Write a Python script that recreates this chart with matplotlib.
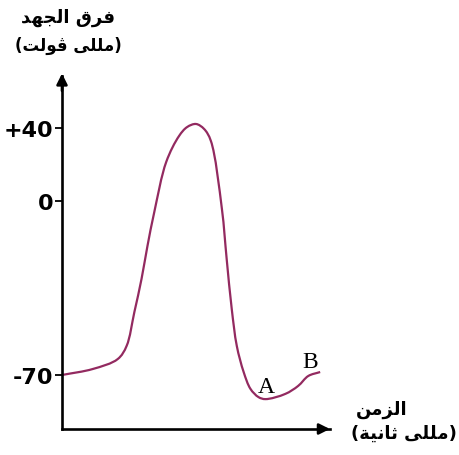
import numpy as np
import matplotlib.pyplot as plt
from matplotlib.path import Path
from matplotlib.patches import PathPatch

# action potential curve (time in ms, arbitrary units)
t_ms = [0.00, 1.03, 1.87, 2.17, 2.43, 2.67, 2.87, 3.10, 3.50, 3.93, 4.20, 4.50,
        4.77, 5.00, 5.37, 5.53, 5.70, 5.87, 6.10, 6.33, 6.60, 6.83, 7.50,
        7.93, 8.27, 8.67]
v_mv = [-70.0, -67.6, -63.6, -58.3, -44.7, -31.4, -18.1, -4.4, 21.4, 35.6, 40.5, 42.2,
        39.5, 32.9, -3.2, -23.3, -43.4, -58.3, -68.8, -75.6, -78.9, -79.7, -77.6,
        -74.4, -70.4, -68.8]
y_ticks = [-70, 0, 40]
y_ticklabels = ['-70', '0', '+40']

# the drawing is schematic: the axis is not linear between the marked values
mv_marks = [-120, -70, 0, 40, 100]
px_marks = [-124.3, 0, 174, 247, 356.5]


def fwd(v):
    return np.interp(v, mv_marks, px_marks)


def inv(p):
    return np.interp(p, px_marks, mv_marks)


# minimal arabic shaping (matplotlib has no complex text layout)
forms = {
    'ا': ('\uFE8D', '\uFE8E', None, None),
    'ت': ('\uFE95', '\uFE96', '\uFE97', '\uFE98'),
    'ث': ('\uFE99', '\uFE9A', '\uFE9B', '\uFE9C'),
    'ج': ('\uFE9D', '\uFE9E', '\uFE9F', '\uFEA0'),
    'د': ('\uFEA9', '\uFEAA', None, None),
    'ر': ('\uFEAD', '\uFEAE', None, None),
    'ز': ('\uFEAF', '\uFEB0', None, None),
    'ف': ('\uFED1', '\uFED2', '\uFED3', '\uFED4'),
    'ق': ('\uFED5', '\uFED6', '\uFED7', '\uFED8'),
    'ل': ('\uFEDD', '\uFEDE', '\uFEDF', '\uFEE0'),
    'م': ('\uFEE1', '\uFEE2', '\uFEE3', '\uFEE4'),
    'ن': ('\uFEE5', '\uFEE6', '\uFEE7', '\uFEE8'),
    'ه': ('\uFEE9', '\uFEEA', '\uFEEB', '\uFEEC'),
    'و': ('\uFEED', '\uFEEE', None, None),
    'ى': ('\uFEEF', '\uFEF0', None, None),
    'ي': ('\uFEF1', '\uFEF2', '\uFEF3', '\uFEF4'),
    'ة': ('\uFE93', '\uFE94', None, None),
    'ڤ': ('\uFB6A', '\uFB6B', '\uFB6C', '\uFB6D'),
}


def shape(s):
    out = []
    for i, c in enumerate(s):
        if c not in forms:
            out.append({'(': ')', ')': '('}.get(c, c))
            continue
        prev = s[i - 1] if i > 0 else ''
        nxt = s[i + 1] if i + 1 < len(s) else ''
        join_prev = prev in forms and forms[prev][2] is not None
        join_next = nxt in forms and forms[c][2] is not None
        iso, fin, ini, med = forms[c]
        if join_prev and join_next:
            out.append(med)
        elif join_prev:
            out.append(fin)
        elif join_next:
            out.append(ini)
        else:
            out.append(iso)
    return ''.join(reversed(out))


ylabel1 = 'فرق الجهد'
ylabel2 = '(مللى ڤولت)'
xlabel1 = 'الزمن'
xlabel2 = '(مللى ثانية)'

fig = plt.figure(figsize=(4.59, 4.56), dpi=100)
ax = fig.add_axes([62 / 459, 26 / 456, 268 / 459, 353 / 456])
ax.set_yscale('function', functions=(fwd, inv))
ax.set_xlim(0, 9)
ax.set_ylim(inv(-54), inv(299))

# smooth pen stroke through the read points (centripetal catmull-rom as bezier),
# built in the scaled space so the odd y axis is respected
xs = 30.0  # roughly px per ms, so distances are measured evenly
P = np.column_stack([np.array(t_ms) * xs, fwd(np.array(v_mv))])
P = np.vstack([2 * P[0] - P[1], P, 2 * P[-1] - P[-2]])
verts = [P[1]]
codes = [Path.MOVETO]
for i in range(1, len(P) - 2):
    p0, p1, p2, p3 = P[i - 1], P[i], P[i + 1], P[i + 2]
    d1 = np.linalg.norm(p1 - p0) ** 0.5
    d2 = np.linalg.norm(p2 - p1) ** 0.5
    d3 = np.linalg.norm(p3 - p2) ** 0.5
    c1 = (d1**2 * p2 - d2**2 * p0 + (2 * d1**2 + 3 * d1 * d2 + d2**2) * p1) / (3 * d1 * (d1 + d2))
    c2 = (d3**2 * p1 - d2**2 * p3 + (2 * d3**2 + 3 * d3 * d2 + d2**2) * p2) / (3 * d3 * (d3 + d2))
    verts += [c1, c2, p2]
    codes += [Path.CURVE4] * 3
verts = np.array(verts)
verts[:, 0] /= xs
curve = PathPatch(Path(verts, codes), facecolor='none', edgecolor='#932a60',
                  lw=1.6, transform=ax.transLimits + ax.transAxes)
ax.add_patch(curve)

ax.set_xticks([])
ax.set_yticks(y_ticks)
ax.set_yticklabels(y_ticklabels, fontsize=16, fontweight='bold', family='DejaVu Sans')
ax.minorticks_off()
ax.tick_params(axis='y', length=5, width=1.3, pad=1)
ax.spines['top'].set_visible(False)
ax.spines['right'].set_visible(False)
ax.spines['left'].set_linewidth(1.9)
ax.spines['bottom'].set_linewidth(1.9)

# arrow heads on the axes
ax.annotate('', xy=(0, 1.015), xycoords='axes fraction', xytext=(0, 0.95),
            arrowprops=dict(arrowstyle='-|>', color='k', lw=1.9, mutation_scale=16),
            annotation_clip=False)
ax.annotate('', xy=(1.01, 0), xycoords='axes fraction', xytext=(0.95, 0),
            arrowprops=dict(arrowstyle='-|>', color='k', lw=1.9, mutation_scale=16),
            annotation_clip=False)

ax.text(6.87, -76.8, 'A', fontsize=17, family='Liberation Serif', ha='center', va='baseline')
ax.text(8.33, -66.8, 'B', fontsize=17, family='Liberation Serif', ha='center', va='baseline')

fig.text(68 / 459, 1 - 18 / 456, shape(ylabel1), fontsize=13, fontweight='bold',
         ha='center', va='center')
fig.text(68 / 459, 1 - 46 / 456, shape(ylabel2), fontsize=12, fontweight='bold',
         ha='center', va='center')
fig.text(382 / 459, 1 - 410 / 456, shape(xlabel1), fontsize=13, fontweight='bold',
         ha='center', va='center')
fig.text(404 / 459, 1 - 434 / 456, shape(xlabel2), fontsize=13, fontweight='bold',
         ha='center', va='center')

fig.savefig('out.png', dpi=100)
